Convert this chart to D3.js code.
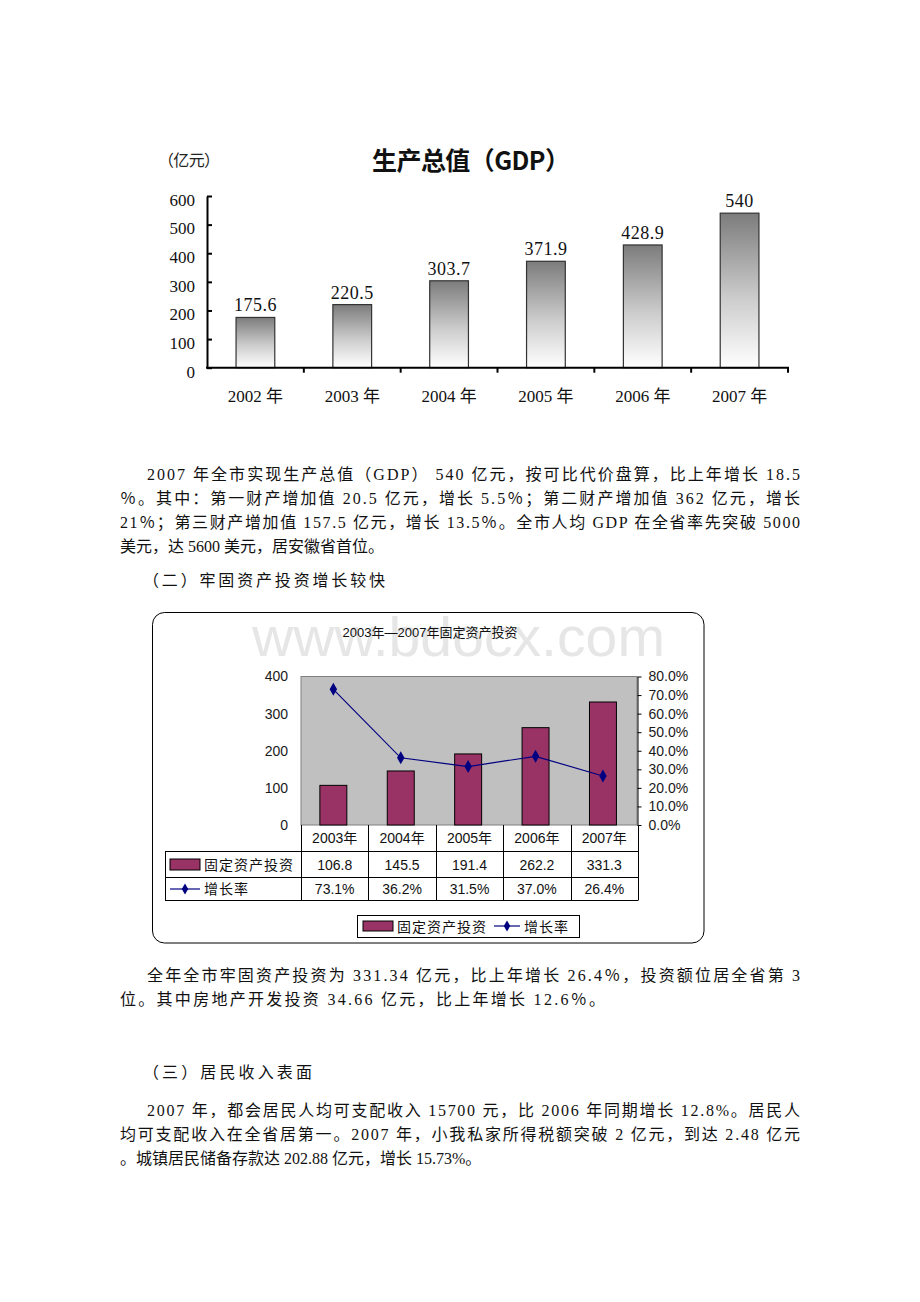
<!DOCTYPE html>
<html>
<head>
<meta charset="utf-8">
<script src="https://cdn.jsdelivr.net/npm/d3@7"></script>
<style>
html,body{margin:0;padding:0;background:#fff;}
svg{display:block;}
</style>
</head>
<body>
<div id="chart"></div>
<script>
// ---------- data ----------
const gdpYears = ["2002 年","2003 年","2004 年","2005 年","2006 年","2007 年"];
const gdpValues = [175.6, 220.5, 303.7, 371.9, 428.9, 540];
const gdpLabels = ["175.6","220.5","303.7","371.9","428.9","540"];
const gdpTicks = [0,100,200,300,400,500,600];

const invYears = ["2003年","2004年","2005年","2006年","2007年"];
const invValues = [106.8, 145.5, 191.4, 262.2, 331.3];
const growthRates = [73.1, 36.2, 31.5, 37.0, 26.4];
const invLeftTicks = [0,100,200,300,400];
const invRightTicks = [0,10,20,30,40,50,60,70,80];
const invSeriesName = "固定资产投资";
const rateSeriesName = "增长率";

const para1 = [
  "2007 年全市实现生产总值（GDP） 540 亿元，按可比代价盘算，比上年增长 18.5",
  "％。其中：第一财产增加值 20.5 亿元，增长 5.5％；第二财产增加值 362 亿元，增长",
  "21％；第三财产增加值 157.5 亿元，增长 13.5％。全市人均 GDP 在全省率先突破 5000",
  "美元，达 5600 美元，居安徽省首位。"
];
const heading2 = "（二）牢固资产投资增长较快";
const para2 = [
  "全年全市牢固资产投资为 331.34 亿元，比上年增长 26.4％，投资额位居全省第 3",
  "位。其中房地产开发投资 34.66 亿元，比上年增长 12.6％。"
];
const heading3 = "（三）居民收入表面";
const para3 = [
  "2007 年，都会居民人均可支配收入 15700 元，比 2006 年同期增长 12.8%。居民人",
  "均可支配收入在全省居第一。2007 年，小我私家所得税额突破 2 亿元，到达 2.48 亿元",
  "。城镇居民储备存款达 202.88 亿元，增长 15.73%。"
];

// ---------- svg ----------
const W = 920, H = 1302;
const svg = d3.select("#chart").append("svg").attr("width", W).attr("height", H);
svg.append("rect").attr("width", W).attr("height", H).attr("fill", "#fff");

const serif = "'Liberation Serif','Noto Sans CJK SC',serif";
const sans = "'Liberation Sans','Noto Sans CJK SC',sans-serif";
const cjk = "'Noto Sans CJK SC',sans-serif";

// ---------- top chart: GDP ----------
const defs = svg.append("defs");
const grad = defs.append("linearGradient").attr("id","barGrad").attr("x1",0).attr("y1",0).attr("x2",0).attr("y2",1);
grad.append("stop").attr("offset","0%").attr("stop-color","#7c7c7c");
grad.append("stop").attr("offset","55%").attr("stop-color","#cccccc");
grad.append("stop").attr("offset","100%").attr("stop-color","#ffffff");

const g1 = svg.append("g");
const x1 = d3.scaleBand().domain(gdpYears).range([207, 788]).padding(0);
const y1 = d3.scaleLinear().domain([0, 600]).range([367.7, 196]);

g1.append("text").attr("x", 372).attr("y", 170)
  .attr("font-family", cjk).attr("font-size", 25).attr("font-weight", 700).attr("fill","#111")
  .attr("textLength", 198).attr("lengthAdjust","spacing")
  .text("生产总值（GDP）");
g1.append("text").attr("x", 158).attr("y", 166)
  .attr("font-family", cjk).attr("font-size", 16).attr("fill","#222")
  .attr("textLength", 62).attr("lengthAdjust","spacing")
  .text("（亿元）");

const yAx1 = g1.append("g").attr("transform","translate(207,0)")
  .call(d3.axisLeft(y1).tickValues(gdpTicks).tickSize(-5).tickSizeOuter(0).tickPadding(12).tickFormat(d3.format("d")));
yAx1.select(".domain").attr("stroke","#000").attr("stroke-width",2);
yAx1.selectAll(".tick line").attr("stroke","#000").attr("stroke-width",2);
yAx1.selectAll(".tick text").attr("font-family", serif).attr("font-size", 17).attr("fill","#111").attr("dy","0.55em");

// bars
g1.selectAll("rect.gbar").data(gdpValues).join("rect").attr("class","gbar")
  .attr("x", (d,i) => x1(gdpYears[i]) + x1.bandwidth()*0.3)
  .attr("width", x1.bandwidth()*0.4)
  .attr("y", d => y1(d))
  .attr("height", d => y1(0) - y1(d))
  .attr("fill","url(#barGrad)").attr("stroke","#333").attr("stroke-width",1.2);

g1.selectAll("text.glab").data(gdpValues).join("text").attr("class","glab")
  .attr("x", (d,i) => x1(gdpYears[i]) + x1.bandwidth()/2)
  .attr("y", d => y1(d) - 6)
  .attr("text-anchor","middle").attr("font-family", serif).attr("font-size", 18).attr("fill","#111")
  .attr("letter-spacing", 0.5)
  .text((d,i) => gdpLabels[i]);

// x axis
const xAx1 = g1.append("g").attr("transform", `translate(0,${y1(0)})`)
  .call(d3.axisBottom(x1).tickSize(0).tickPadding(22));
xAx1.select(".domain").remove();
xAx1.selectAll(".tick text").attr("font-family", serif).attr("font-size", 17).attr("fill","#111");
g1.append("line").attr("x1", 206).attr("x2", 789).attr("y1", y1(0)).attr("y2", y1(0)).attr("stroke","#000").attr("stroke-width",2);
const bounds = gdpYears.map(d => x1(d)).concat([x1.range()[1]]).slice(1);
g1.selectAll("line.bt").data(bounds).join("line").attr("class","bt")
  .attr("x1", d => d).attr("x2", d => d).attr("y1", y1(0)).attr("y2", y1(0)+5)
  .attr("stroke","#000").attr("stroke-width",2);

// ---------- paragraph text ----------
function para(lines, y0, firstIndentX, lastWidth) {
  lines.forEach((t, i) => {
    const x = i === 0 ? firstIndentX : 120;
    const el = svg.append("text").attr("x", x).attr("y", y0 + i*24)
      .attr("font-family", serif).attr("font-size", 16).attr("fill","#111").text(t);
    if (i < lines.length - 1) {
      el.attr("textLength", 800 - x).attr("lengthAdjust","spacing");
    } else if (lastWidth) {
      el.attr("textLength", lastWidth).attr("lengthAdjust","spacing");
    }
  });
}
function heading(t, y, w) {
  svg.append("text").attr("x", 143).attr("y", y).attr("font-family", serif).attr("font-size", 16)
    .attr("fill","#111").attr("textLength", w).attr("lengthAdjust","spacing").text(t);
}
para(para1, 480, 147);
heading(heading2, 586, 242);

// ---------- second chart ----------
const g2 = svg.append("g");
g2.append("rect").attr("x",152.5).attr("y",612.5).attr("width",551.5).attr("height",330.5).attr("rx",12)
  .attr("fill","#fff").attr("stroke","#000").attr("stroke-width",1);

// watermark
g2.append("text").attr("x", 252).attr("y", 656).attr("font-family", sans).attr("font-size", 56)
  .attr("textLength", 413).attr("lengthAdjust","spacingAndGlyphs")
  .attr("fill","#e6e6e6").text("www.bdocx.com");

g2.append("text").attr("x", 430).attr("y", 637).attr("text-anchor","middle")
  .attr("font-family", sans).attr("font-size", 13).attr("fill","#111").text("2003年—2007年固定资产投资");

const x2 = d3.scaleBand().domain(invYears).range([301, 638]).padding(0);
const yL = d3.scaleLinear().domain([0, 400]).range([825, 676.5]);
const yR = d3.scaleLinear().domain([0, 80]).range([825, 676.5]);

g2.append("rect").attr("x", 301).attr("y", yL(400)).attr("width", 637-301).attr("height", yL(0)-yL(400))
  .attr("fill","#c0c0c0").attr("stroke","#808080").attr("stroke-width",1);

const lAx = g2.append("g").attr("transform","translate(301,0)")
  .call(d3.axisLeft(yL).tickValues(invLeftTicks).tickSize(0).tickPadding(13).tickFormat(d3.format("d")));
lAx.select(".domain").remove();
lAx.selectAll(".tick text").attr("font-family", sans).attr("font-size", 14).attr("fill","#1a1a1a");

const rAx = g2.append("g").attr("transform","translate(637.5,0)")
  .call(d3.axisRight(yR).tickValues(invRightTicks).tickSize(4).tickSizeOuter(0).tickPadding(7).tickFormat(d => d.toFixed(1) + "%"));
rAx.select(".domain").attr("stroke","#000");
rAx.selectAll(".tick line").attr("stroke","#000");
rAx.selectAll(".tick text").attr("font-family", sans).attr("font-size", 14).attr("fill","#1a1a1a");

g2.selectAll("rect.ibar").data(invValues).join("rect").attr("class","ibar")
  .attr("x", (d,i) => x2(invYears[i]) + x2.bandwidth()*0.28)
  .attr("width", x2.bandwidth()*0.4)
  .attr("y", d => yL(d))
  .attr("height", d => yL(0) - yL(d))
  .attr("fill","#993366").attr("stroke","#000").attr("stroke-width",1);

const line = d3.line().x((d,i) => x2(invYears[i]) + x2.bandwidth()*0.48).y(d => yR(d));
g2.append("path").datum(growthRates).attr("d", line).attr("fill","none").attr("stroke","#000080").attr("stroke-width",1.2);
const diamond = d3.symbol().type(d3.symbolDiamond).size(48);
g2.selectAll("path.mk").data(growthRates).join("path").attr("class","mk")
  .attr("transform", (d,i) => `translate(${x2(invYears[i]) + x2.bandwidth()*0.48},${yR(d)})`)
  .attr("d", diamond).attr("fill","#000080");

// data table
const tTop = 825, r1 = 851.5, r2 = 877.5, r3 = 900.5, tLeft = 165;
const tl = g2.append("g").attr("stroke","#000").attr("stroke-width",1);
tl.append("line").attr("x1", tLeft).attr("x2", 638).attr("y1", r1).attr("y2", r1);
tl.append("line").attr("x1", tLeft).attr("x2", 638).attr("y1", r2).attr("y2", r2);
tl.append("line").attr("x1", tLeft).attr("x2", 638).attr("y1", r3).attr("y2", r3);
tl.append("line").attr("x1", tLeft+0.5).attr("x2", tLeft+0.5).attr("y1", r1).attr("y2", r3);
const colEdges = invYears.map(d => x2(d)).concat([x2.range()[1]]);
tl.selectAll("line.cv").data(colEdges).join("line").attr("class","cv")
  .attr("x1", d => Math.round(d)+0.5).attr("x2", d => Math.round(d)+0.5).attr("y1", tTop).attr("y2", r3);

const cx = d => x2(d) + x2.bandwidth()/2;
g2.selectAll("text.hy").data(invYears).join("text").attr("class","hy")
  .attr("x", d => cx(d)).attr("y", 843).attr("text-anchor","middle")
  .attr("font-family", sans).attr("font-size", 14).attr("fill","#111").text(d => d);
g2.selectAll("text.hv").data(invValues).join("text").attr("class","hv")
  .attr("x", (d,i) => cx(invYears[i])).attr("y", 869.5).attr("text-anchor","middle")
  .attr("font-family", sans).attr("font-size", 14).attr("fill","#111").text(d => d.toFixed(1));
g2.selectAll("text.hr").data(growthRates).join("text").attr("class","hr")
  .attr("x", (d,i) => cx(invYears[i])).attr("y", 894).attr("text-anchor","middle")
  .attr("font-family", sans).attr("font-size", 14).attr("fill","#111").text(d => d.toFixed(1) + "%");

// row labels
g2.append("rect").attr("x",170).attr("y",859).attr("width",30).attr("height",11).attr("fill","#993366").attr("stroke","#000");
g2.append("text").attr("x",204).attr("y",869.5).attr("font-family", cjk).attr("font-size",14).attr("fill","#111").attr("letter-spacing",1).text(invSeriesName);
g2.append("line").attr("x1",170).attr("x2",200).attr("y1",889).attr("y2",889).attr("stroke","#000080").attr("stroke-width",1.2);
g2.append("path").attr("transform","translate(185,889)").attr("d", d3.symbol().type(d3.symbolDiamond).size(36)).attr("fill","#000080");
g2.append("text").attr("x",204).attr("y",894).attr("font-family", cjk).attr("font-size",14).attr("fill","#111").attr("letter-spacing",1).text(rateSeriesName);

// legend
g2.append("rect").attr("x",357.5).attr("y",915.5).attr("width",222).attr("height",22).attr("fill","#fff").attr("stroke","#000");
g2.append("rect").attr("x",363).attr("y",921).attr("width",30).attr("height",10).attr("fill","#993366").attr("stroke","#000");
g2.append("text").attr("x",397).attr("y",931.5).attr("font-family", cjk).attr("font-size",14).attr("fill","#111").attr("letter-spacing",1).text(invSeriesName);
g2.append("line").attr("x1",494).attr("x2",520).attr("y1",926).attr("y2",926).attr("stroke","#000080").attr("stroke-width",1.2);
g2.append("path").attr("transform","translate(507,926)").attr("d", d3.symbol().type(d3.symbolDiamond).size(36)).attr("fill","#000080");
g2.append("text").attr("x",524).attr("y",931.5).attr("font-family", cjk).attr("font-size",14).attr("fill","#111").attr("letter-spacing",1).text(rateSeriesName);

// ---------- remaining text ----------
para(para2, 981, 147, 485);
heading(heading3, 1078, 169);
para(para3, 1116, 147);
</script>
</body>
</html>
